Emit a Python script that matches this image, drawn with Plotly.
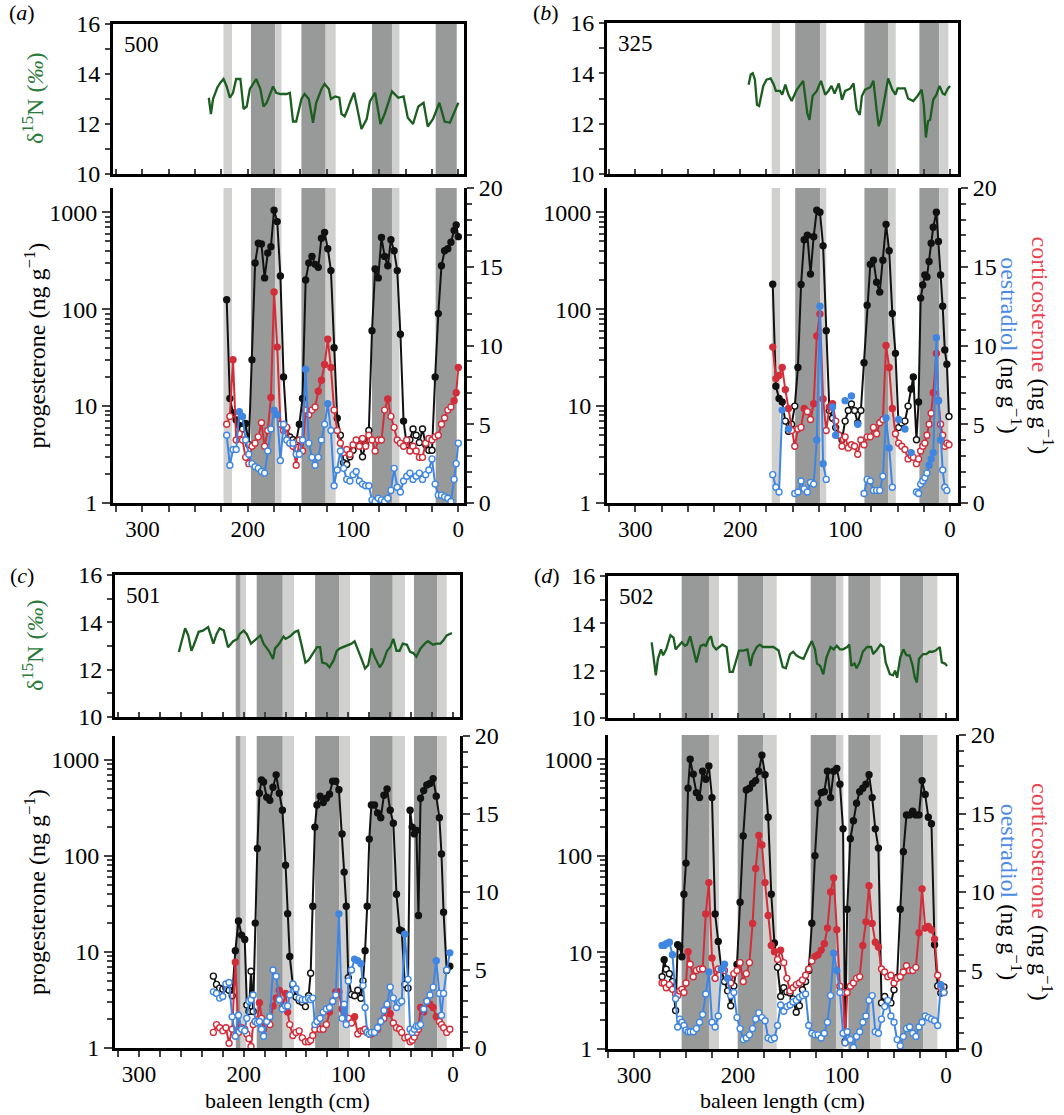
import plotly.graph_objects as go

W, H = 1064, 1115
FONT = "Liberation Serif"
GREEN = "#1b5e20"
BLACK = "#111111"
RED = "#d22e3a"
BLUE = "#3f86e2"
DARK = "#989a9a"
LIGHT = "#d0d1cf"

# ---------------- panel (a) whale 500 ----------------
d15n_x_a = [237, 235, 233, 229, 226, 223, 220, 217, 214, 211,
            207, 204, 201, 198, 192, 188, 185, 182, 176, 173,
            169, 163, 160, 157, 154, 149, 146, 142, 138, 135,
            130, 127, 123, 121, 117, 113, 111, 108, 105, 103,
            99, 97, 92, 87, 84, 79, 74, 70, 63, 57,
            52, 48, 43, 38, 33, 29, 24, 18, 13, 8,
            3, 0]
d15n_a = [13.05, 12.4, 13.0, 13.45, 13.65, 13.8, 13.5, 13.05, 13.25, 13.8,
          13.8, 12.6, 12.7, 13.4, 13.8, 13.4, 12.7, 12.85, 13.5, 13.25,
          13.2, 13.2, 13.25, 12.1, 12.1, 13.0, 13.2, 13.0, 12.05, 12.85,
          13.4, 13.6, 13.4, 13.0, 13.1, 13.05, 12.4, 12.3, 12.6, 12.85,
          13.25, 12.85, 11.8, 12.2, 12.9, 13.25, 12.0, 12.4, 13.3, 13.05,
          13.1, 12.25, 12.0, 12.7, 12.85, 11.9, 12.2, 12.85, 12.1, 12.05,
          12.6, 12.85]
pos_a = [220, 217, 214, 211, 208, 205, 202, 199, 196, 193,
         190, 187, 184, 181, 178, 175, 172, 169, 166, 163,
         160, 157, 154, 151, 148, 145, 142, 139, 136, 133,
         130, 127, 124, 121, 118, 115, 112, 109, 106, 103,
         100, 97, 94, 91, 88, 85, 82, 79, 76, 73,
         70, 67, 64, 61, 58, 55, 52, 49, 46, 43,
         40, 37, 34, 31, 28, 25, 22, 19, 16, 13,
         10, 7, 4, 2, 0]
prog_a = [125, 12, 8.5, 7.2, 6.3, 5.8, 6.6, 4.0, 30, 300,
          480, 470, 210, 380, 440, 1050, 800, 220, 20, 6.0,
          4.8, 4.5, 4.3, 6.5, 12, 200, 300, 350, 290, 270,
          540, 620, 420, 250, 40, 7.5, 5.0, 2.6, 2.5, 3.0,
          3.5, 4.1, 4.0, 3.0, 4.0, 5.6, 60, 260, 210, 550,
          350, 280, 520, 400, 250, 55, 7, 4.0, 4.5, 5.8,
          5.0, 4.2, 5.8, 4.0, 3.5, 3.5, 20, 90, 280, 400,
          420, 490, 650, 740, 560]
cort_a = [5.0, 5.5, 9.1, 4.0, 4.4, 4.0, 2.9, 2.5, 3.6, 3.8,
          4.2, 5.1, 3.6, 4.6, 6.7, 13.4, 9.9, 5.0, 4.6, 4.8,
          3.8, 3.6, 2.4, 4.0, 3.3, 5.9, 5.6, 5.9, 6.1, 7.1,
          7.8, 8.8, 10.4, 8.6, 5.9, 4.6, 3.8, 3.2, 3.4, 3.1,
          3.7, 4.0, 3.6, 4.1, 3.6, 4.3, 4.0, 3.3, 4.0, 4.0,
          5.9, 6.6, 5.5, 4.8, 4.0, 3.8, 3.6, 4.0, 3.3, 3.6,
          3.3, 2.9, 2.9, 3.8, 4.1, 4.0, 4.2, 4.3, 5.0, 5.4,
          5.9, 6.1, 6.5, 7.0, 8.6]
oest_a = [4.3, 2.4, 3.4, 3.4, 5.8, 5.5, 4.0, 3.1, 2.5, 2.3,
          2.2, 2.0, 1.9, 3.3, 4.7, 5.9, 5.6, 2.7, 5.0, 4.0,
          3.8, 3.8, 3.1, 3.1, 4.0, 8.5, 3.8, 2.9, 2.4, 2.9,
          4.0, 5.0, 6.3, 4.6, 1.1, 2.1, 3.3, 2.2, 1.5, 1.4,
          1.8, 2.0, 1.4, 1.2, 1.1, 1.1, 0.2, 0.1, 0.3, 0.2,
          0.1, 0.3, 0.8, 2.2, 1.0, 0.7, 1.4, 1.7, 1.9, 1.5,
          1.7, 1.9, 1.5, 1.8, 2.1, 2.8, 1.2, 0.5, 0.5, 0.4,
          0.3, 0.1, 1.5, 2.5, 3.8]
bands_a = [(223, 215, "light"), (197, 174, "dark"), (174, 168, "light"),
           (149, 126, "dark"), (126, 116.5, "light"), (82, 63, "dark"),
           (63, 56, "light"), (21.5, 1.5, "dark")]

# ---------------- panel (b) whale 325 ----------------
d15n_x_b = [192, 190, 188, 186, 184, 182, 178, 175, 171, 168,
            166, 162, 160, 157, 154, 151, 146, 142, 140, 136,
            134, 131, 127, 123, 119, 116, 113, 110, 106, 103,
            100, 95, 92, 89, 86, 84, 81, 76, 73, 70,
            68, 66, 62, 59, 55, 52, 50, 46, 43, 40,
            35, 31, 27, 25, 23, 21, 19, 16, 13, 10,
            7, 5, 2, 0]
d15n_b = [13.55, 13.95, 14.0, 13.75, 12.75, 12.7, 13.5, 13.75, 13.8, 13.55,
          13.3, 13.3, 13.15, 13.55, 13.15, 12.9, 13.35, 13.6, 13.7, 12.4,
          12.15, 13.1, 13.3, 13.7, 13.15, 13.3, 13.5, 13.2, 13.6, 12.95,
          13.3, 13.4, 13.6, 12.55, 12.35, 13.1, 13.35, 13.45, 13.7, 12.55,
          11.9, 12.15, 13.2, 13.8, 13.35, 13.15, 13.4, 13.4, 13.4, 13.0,
          12.9, 13.1, 13.35, 12.75, 11.45, 12.1, 12.15, 12.95, 13.15, 13.5,
          13.2, 13.15, 13.4, 13.5]
pos_b = [169, 166, 163, 160, 157, 154, 151, 148, 145, 142,
         139, 136, 133, 130, 127, 124, 121, 118, 115, 112,
         109, 106, 103, 100, 97, 94, 91, 88, 85, 82,
         79, 76, 73, 70, 67, 64, 61, 58, 55, 52,
         49, 46, 43, 40,
         37, 35, 32, 30, 28, 26, 24, 22, 20, 18,
         16, 13, 11, 9, 7, 5, 3, 1]
prog_b = [181, 16, 12, 11, 7, 5.5, 6.5, 10, 25, 180,
          520, 580, 230, 560, 1050, 1000, 450, 60, 9, 7.5,
          6, 5, 4.5, 7, 9, 10.5, 9, 6.7, 9, 28,
          110, 290, 320, 190, 150, 320, 750, 400, 90, 35,
          6, 6.7, 7.0, 10,
          15, 20, 4.5, 11, 130, 178, 225, 215, 310, 480,
          700, 1000, 500, 225, 107, 38, 27, 7.8]
cort_b = [9.9, 7.9, 8.1, 8.6, 7.2, 6.0, 4.6, 3.6, 4.7, 4.8,
          6.0, 5.8, 5.3, 6.3, 10.6, 12.0, 6.6, 4.6, 6.1, 6.3,
          5.2, 4.3, 3.6, 4.2, 3.5, 3.7, 3.6, 3.1, 4.0, 3.7,
          4.2, 4.2, 4.8, 4.4, 5.1, 5.3, 10.0, 8.6, 6.0, 4.4,
          3.8, 3.6, 3.4, 2.8,
          3.0, 2.9, 2.5, 2.8, 3.3, 3.6, 3.8, 4.3, 5.0, 5.7,
          7.0, 9.5, 6.5, 5.0, 4.3, 3.6, 3.8, 3.7]
oest_b = [1.8, 1.0, 0.7, 5.9, None, 4.7, None, 0.6, 0.7, 1.4,
          0.9, 0.7, 1.3, 1.2, 4.0, 12.5, 2.5, 1.5, None, 6.1,
          4.3, None, None, 6.5, None, 6.8, None, 5.0, None, 0.6,
          1.5, 1.4, 0.8, 0.8, 0.8, 1.7, 5.4, 3.5, 1.0, None,
          5.3, None, 4.7, None,
          3.2, None, 0.7, 0.6, 1.2, 1.4, 1.6, 1.9, 2.4, 2.8,
          3.2, 10.5, 6.5, 4.0, 2.1, 1.0, 0.8, None]
bands_b = [(170, 162, "light"), (147.6, 123.8, "dark"), (123.8, 118, "light"),
           (81.6, 58.7, "dark"), (58.7, 51.7, "light"), (29.2, 10.2, "dark"),
           (10.2, 1.6, "light")]

# ---------------- panel (c) whale 501 ----------------
d15n_x_c = [262, 259, 256, 253, 250, 248, 243, 239, 234, 229,
            226, 223, 219, 215, 210, 206, 204, 200, 197, 193,
            188, 184, 181, 176, 172, 170, 166, 162, 160, 156,
            151, 148, 145, 141, 138, 133, 130, 127, 125, 121,
            118, 114, 111, 108, 105, 100, 97, 94, 90, 87,
            84, 81, 78, 75, 70, 67, 63, 60, 57, 54,
            51, 48, 44, 41, 38, 35, 31, 27, 24, 19,
            16, 12, 9, 6, 1]
d15n_c = [12.75, 13.25, 13.75, 13.45, 12.8, 13.0, 13.6, 13.65, 13.8, 13.1,
          13.5, 13.75, 13.65, 12.95, 13.2, 13.3, 13.5, 13.65, 13.5, 13.1,
          13.3, 13.45, 13.1, 12.8, 12.45, 12.9, 13.1, 13.4, 13.3, 13.4,
          13.6, 13.65, 13.1, 12.3, 12.4, 12.75, 12.95, 12.95, 12.3, 12.25,
          12.1, 12.4, 12.8, 12.9, 12.95, 13.05, 13.1, 13.2, 12.7, 12.4,
          12.05, 12.2, 12.9, 12.55, 12.1, 12.3, 12.8, 12.95, 13.3, 12.8,
          12.8, 13.1, 13.05, 12.75, 12.7, 12.55, 12.9, 13.1, 13.2, 13.05,
          13.1, 13.1, 13.25, 13.45, 13.55]
pos_c = [229, 226, 223, 220, 217, 214, 211, 208, 205, 202,
         199, 197, 195, 193, 191, 189, 187, 185, 183, 181,
         178, 175, 172, 169, 166, 163, 160, 158, 156, 153,
         150, 147, 144, 141, 138, 136, 134, 132, 130, 127,
         124, 121, 118, 115, 112, 109, 106, 104, 102, 100,
         97, 94, 91, 88, 86, 84, 82, 80, 78, 75,
         72, 69, 66, 63, 60, 57, 54, 51, 49, 46,
         43, 41, 39, 37, 35, 33, 31, 28, 25, 22,
         19, 16, 13, 11, 9, 6, 3]
prog_c = [5.6, 4.6, 4.2, 4.1, 4.2, 4.0, 3.5, 10.3, 21, 15,
          13.5, 2.8, 2.4, 6.3, 2.4, 20, 120, 450, 620, 590,
          410, 380, 520, 700, 450, 300, 80, 25, 9, 4.5,
          3.4, 3.1, 3.0, 2.7, 3.5, 6, 30, 200, 340, 420,
          360, 400, 440, 600, 600, 490, 170, 68, 30, 5.4,
          3.6, 3.5, 4.0, 3.3, 5, 10.3, 30, 150, 340, 340,
          280, 250, 430, 500, 300, 220, 40, 17, 16.6, 4.6,
          4.2, 300, 200, 170, 185, 24, 400, 480, 550, 570,
          640, 420, 250, 105, 26, 6.4, 7.1]
cort_c = [1.0, 1.5, 1.3, 1.1, 1.3, 0.3, 1.2, 5.5, 1.0, 1.3,
          1.2, 0.9, 0.6, 0.1, 1.5, 1.7, 1.8, 2.9, 1.9, 1.2,
          1.6, 1.5, 2.7, 3.2, 3.7, 2.6, 3.5, 2.3, 1.5, 0.8,
          1.0, 1.1, 0.65, 0.4, 0.4, 0.5, 0.8, 1.2, 1.5, 1.2,
          1.2, 1.5, 2.3, 3.0, 3.6, 3.6, 2.5, 2.2, 1.7, 1.9,
          1.6, 2.0, 0.9, 1.1, 1.1, 1.2, 1.0, 0.9, 0.9, 1.0,
          1.2, 1.7, 1.9, 2.6, 2.2, 1.6, 1.3, 1.2, 1.0, 0.65,
          0.7, 0.4, 0.5, 0.7, 1.0, 1.2, 2.6, 2.3, 3.0, 2.8,
          2.6, 2.0, 1.7, 1.5, 1.3, 1.0, 1.2]
oest_c = [3.6, 3.5, 3.2, 3.3, 4.1, 4.2, 2.0, 0.75, 2.1, 1.2,
          1.1, 1.9, 3.0, 3.1, 3.4, 1.7, 1.6, 1.7, 1.2, 0.75,
          1.7, 2.0, 5.0, 4.6, 3.1, 2.5, 2.7, 2.7, 3.4, 4.1,
          3.8, 3.2, 3.1, 3.1, 3.2, 3.1, 3.2, 1.5, 1.7, 1.9,
          2.3, 2.5, 2.6, 3.0, 3.4, 8.6, 1.9, 2.8, 1.5, 4.3,
          5.0, 5.7, 5.6, 5.4, 4.0, 2.6, 1.0, 0.9, 1.0, 1.0,
          1.3, 1.7, 2.4, 2.8, 3.9, 3.2, 2.6, 2.9, 3.0, 7.3,
          4.4, 1.2, 1.0, 1.2, 1.4, 1.4, 1.5, 2.5, 3.0, 3.4,
          3.9, 5.6, 3.5, 2.1, 3.5, 5.0, 6.1]
bands_c = [(207.6, 202.9, "dark"), (202.9, 197.8, "light"), (187.6, 162.7, "dark"),
           (162.7, 151.9, "light"), (131.8, 108.6, "dark"), (108.6, 98.4, "light"),
           (79.3, 57.6, "dark"), (57.6, 45.9, "light"), (37.3, 15, "dark"),
           (15, 6, "light")]

# ---------------- panel (d) whale 502 ----------------
d15n_x_d = [283, 281, 279, 277, 274, 272, 269, 267, 265, 262,
            260, 257, 254, 251, 249, 246, 244, 240, 238, 236,
            233, 231, 228, 226, 224, 221, 218, 215, 211, 208,
            205, 202, 199, 195, 191, 188, 186, 182, 179, 176,
            172, 166, 161, 157, 154, 150, 147, 144, 140, 137,
            132, 129, 126, 124, 121, 118, 115, 111, 108, 105,
            102, 99, 95, 93, 91, 88, 86, 83, 80, 76,
            72, 70, 67, 63, 60, 58, 54, 51, 49, 47,
            44, 41, 38, 35, 32, 30, 28, 26, 22, 19,
            16, 13, 10, 6, 4, 1, -1]
d15n_d = [13.2, 12.5, 11.8, 12.5, 12.9, 12.65, 12.9, 13.2, 13.5, 13.4,
          12.9, 13.05, 13.2, 13.05, 13.1, 13.45, 13.05, 12.35, 12.7, 13.05,
          13.1, 13.05, 13.35, 13.45, 13.05, 12.9, 13.0, 13.1, 13.0, 11.95,
          11.95, 12.35, 12.85, 12.85, 12.9, 12.2, 12.65, 13.0, 13.1, 13.0,
          13.0, 13.0, 12.85, 12.15, 12.1, 12.7, 12.8, 12.65, 12.55, 12.5,
          13.0, 13.25, 12.9, 12.3, 12.2, 11.85, 12.55, 13.0, 12.9, 13.05,
          12.9, 12.9, 13.0, 13.1, 12.2, 12.3, 12.1, 12.35, 12.8, 13.0,
          13.0, 12.7, 12.85, 13.1, 13.0, 12.35, 11.85, 11.8, 12.0, 11.7,
          12.55, 12.9, 12.65, 12.65, 12.2, 11.7, 11.5, 12.5, 12.7, 12.7,
          12.8, 12.8, 12.85, 13.0, 12.35, 12.3, 12.2]
pos_d = [273, 271, 269, 266, 263, 260, 258, 256, 254, 252,
         250, 248, 246, 243, 240, 237, 234, 231, 228, 225,
         222, 219, 216, 213, 210, 207, 204, 201, 198, 195,
         192, 189, 186, 183, 180, 177, 174, 171, 168, 165,
         162, 159, 156, 153, 150, 147, 144, 141, 138, 135,
         132, 129, 126, 123, 120, 117, 114, 111, 108, 105,
         102, 99, 97, 95, 92, 89, 86, 83, 80, 77,
         74, 71, 68, 65, 62, 59, 56, 53, 50, 47,
         44, 41, 38, 35, 32, 29, 26, 23, 20, 17,
         14, 11, 8, 5, 2]
prog_d = [5.6, 8.4, 6.7, 6.0, 5.0, 2.5, 12, 11.5, 9.0, 40,
          84, 500, 1000, 700, 450, 400, 750, 620, 850, 400,
          25, 13, 6.6, 5, 4, 2.8, 4.5, 7.5, 33, 160,
          480, 500, 560, 600, 750, 1100, 690, 250, 40, 12.5,
          7, 3.5, 4.3, 3.9, 3.8, 3.3, 2.4, 2.8, 4.1, 5.0,
          6.5, 20, 100, 350, 450, 460, 750, 400, 750, 800,
          550, 190, 1.2, 28, 150, 230, 350, 460, 500, 550,
          690, 400, 190, 120, 3.0, 3.5, 3.0, 3.0, 4.1, 5.5,
          28, 110, 265, 265, 290, 265, 265, 600, 430, 250,
          215, 12, 4.5, 3.8, 4.4]
cort_d = [4.2, 4.2, 3.9, 4.1, 3.8, 3.5, 3.4, 3.7, 3.8, 3.6,
          4.2, 6.2, 5.4, 4.6, 5.0, 5.1, 5.1, 8.6, 10.6, 5.8,
          4.5, 5.1, 5.1, 5.0, 4.5, 4.2, 4.8, 5.0, 5.5, 4.3,
          4.8, 5.5, 8.0, 11.5, 13.6, 13.0, 10.6, 8.5, 6.6, 6.2,
          5.7, 6.3, 5.5, 4.5, 3.7, 3.9, 4.1, 4.2, 4.4, 4.7,
          5.1, 5.6, 5.9, 6.0, 6.3, 6.7, 7.7, 10.0, 10.9, 7.6,
          4.0, 3.6, 0.4, 3.6, 4.0, 4.2, 4.5, 4.6, 6.6, 8.1,
          10.4, 8.0, 6.8, 6.5, 5.1, 4.9, 4.6, 4.7, 4.2, 4.5,
          4.6, 4.9, 5.3, 5.0, 5.0, 5.2, 7.4, 10.2, 7.7, 7.8,
          7.6, 7.0, 4.7, 3.9, 3.6]
oest_d = [6.6, 6.6, 6.7, 6.8, 6.0, 3.2, 1.4, 1.9, 1.7, 1.5,
          1.2, 1.1, 1.1, 1.1, 1.3, 1.7, 2.2, 3.5, 4.9, 1.7,
          1.4, 2.1, 5.1, 5.4, 4.5, 3.4, 3.6, 2.0, 1.3, 0.6,
          0.7, 0.9, 1.3, 1.9, 2.3, 2.0, 1.8, 0.7, 0.6, 0.7,
          1.5, 2.8, 2.4, 2.7, 2.8, 3.0, 3.1, 3.3, 3.4, 3.5,
          1.5, 1.0, 0.9, 0.9, 0.7, 1.0, 1.7, 3.4, 6.1, 5.0,
          3.6, 1.0, 0.4, 1.1, 0.6, 0.1, 0.8, 1.1, 1.7, 2.1,
          3.1, 3.4, 1.1, 1.0, 1.9, 2.7, 3.1, 2.1, 1.7, 0.6,
          0.2, 0.8, 1.3, 1.4, 1.0, 0.8, 1.4, 1.7, 2.1, 2.0,
          1.9, 1.8, 1.5, 4.1, 3.6]
bands_d = [(254.2, 227.9, "dark"), (227.9, 218.3, "light"), (200.3, 175.6, "dark"),
           (175.6, 162.8, "light"), (130.1, 105.8, "dark"), (105.8, 98.7, "light"),
           (93.9, 73.1, "dark"), (73.1, 62.8, "light"), (44.2, 21.8, "dark"),
           (21.8, 8.3, "light")]

panels = [
    dict(tag="a", whale="500", nx=d15n_x_a, ny=d15n_a, pos=pos_a, prog=prog_a, cort=cort_a, oest=oest_a,
         bands=bands_a, box=(113, 464, 24, 174, 188, 503), xrange=[328, -5.4], xtick=25,
         thr=(6.0, 6.3, 5.5), letter=(22, 13), left=True, right=False, xlabel=False),
    dict(tag="b", whale="325", nx=d15n_x_b, ny=d15n_b, pos=pos_b, prog=prog_b, cort=cort_b, oest=oest_b,
         bands=bands_b, box=(607, 958, 23, 174, 188, 503), xrange=[327, -7.6], xtick=25,
         thr=(10.8, 6.0, 2.4), letter=(546, 13), left=False, right=True, xlabel=False),
    dict(tag="c", whale="501", nx=d15n_x_c, ny=d15n_c, pos=pos_c, prog=prog_c, cort=cort_c, oest=oest_c,
         bands=bands_c, box=(115, 460, 575, 717, 736, 1048), xrange=[323, -6.7], xtick=20,
         thr=(7.0, 2.0, 5.3), letter=(22, 575), left=True, right=False, xlabel=True),
    dict(tag="d", whale="502", nx=d15n_x_d, ny=d15n_d, pos=pos_d, prog=prog_d, cort=cort_d, oest=oest_d,
         bands=bands_d, box=(608, 956, 576, 718, 735, 1049), xrange=[325, -9.6], xtick=25,
         thr=(7.5, 5.8, 4.0), letter=(547, 575), left=False, right=True, xlabel=True),
]

for p in panels:
    assert len(p["nx"]) == len(p["ny"]), p["tag"]
    for k in ("prog", "cort", "oest"):
        assert len(p["pos"]) == len(p[k]), (p["tag"], k)


def ax_key(kind, n):
    return f"{kind}axis" if n == 1 else f"{kind}axis{n}"


def ref(kind, n):
    return kind if n == 1 else f"{kind}{n}"


def fills(vals, thr, color):
    return [color if (v is not None and v >= thr) else "white" for v in vals]


def note(px, py, text, size=24, color="black", angle=0, xanchor="center"):
    return dict(x=px / W, y=1 - py / H, xref="paper", yref="paper", text=text,
                xanchor=xanchor, yanchor="middle", textangle=angle, showarrow=False,
                font=dict(family=FONT, size=size, color=color))


fig = go.Figure()
layout = dict(width=W, height=H, margin=dict(l=0, r=0, t=0, b=0, pad=0),
              paper_bgcolor="white", plot_bgcolor="white", showlegend=False,
              font=dict(family=FONT, size=24, color="black"))
shapes = []
annotations = []
line_style = dict(showline=True, linecolor="black", linewidth=3, showgrid=False, zeroline=False,
                  automargin=False)
tick24 = dict(family=FONT, size=24, color="black")
tick23 = dict(family=FONT, size=23, color="black")

for i, p in enumerate(panels):
    xt, xb = 2 * i + 1, 2 * i + 2
    yt, yb, yr = 3 * i + 1, 3 * i + 2, 3 * i + 3
    x0, x1, ty0, ty1, by0, by1 = p["box"]
    xdom = [x0 / W, x1 / W]

    layout[ax_key("x", xt)] = dict(domain=xdom, anchor=ref("y", yt), range=p["xrange"],
                                   tick0=0, dtick=p["xtick"], ticks="inside", ticklen=5, tickwidth=2,
                                   showticklabels=False, mirror=True, **line_style)
    layout[ax_key("y", yt)] = dict(domain=[1 - ty1 / H, 1 - ty0 / H], anchor=ref("x", xt), range=[10, 16],
                                   tick0=10, dtick=2, ticks="outside", ticklen=5, tickwidth=2, tickfont=tick24,
                                   minor=dict(tick0=10, dtick=1, ticks="outside", ticklen=5, tickwidth=2),
                                   mirror=True, **line_style)
    layout[ax_key("x", xb)] = dict(domain=xdom, anchor=ref("y", yb), range=p["xrange"],
                                   tick0=0, dtick=100, ticks="outside", ticklen=6, tickwidth=2, tickfont=tick23,
                                   ticklabelstandoff=-3,
                                   minor=dict(tick0=0, dtick=p["xtick"], ticks="outside", ticklen=6, tickwidth=2),
                                   **line_style)
    layout[ax_key("y", yb)] = dict(domain=[1 - by1 / H, 1 - by0 / H], anchor=ref("x", xb), type="log",
                                   range=[0, 3.25], dtick=1, exponentformat="none", tickfont=tick24,
                                   ticks="outside", ticklen=8, tickwidth=2,
                                   minor=dict(dtick="D1", ticks="outside", ticklen=5, tickwidth=1.5),
                                   **line_style)
    layout[ax_key("y", yr)] = dict(overlaying=ref("y", yb), anchor=ref("x", xb), side="right", range=[0, 20],
                                   tick0=0, dtick=5, ticks="outside", ticklen=7, tickwidth=2, tickfont=tick24,
                                   minor=dict(tick0=0, dtick=1, ticks="outside", ticklen=5, tickwidth=2),
                                   **line_style)

    for s, e, kind in p["bands"]:
        for xa, ya in ((xt, yt), (xb, yb)):
            shapes.append(dict(type="rect", xref=ref("x", xa), yref=ref("y", ya) + " domain",
                               x0=s, x1=e, y0=0, y1=1, fillcolor=DARK if kind == "dark" else LIGHT,
                               line=dict(width=0), layer="below"))

    fig.add_trace(go.Scatter(x=p["nx"], y=p["ny"], mode="lines", line=dict(color=GREEN, width=2.3),
                             xaxis=ref("x", xt), yaxis=ref("y", yt)))
    tp, tc, to = p["thr"]
    fig.add_trace(go.Scatter(x=p["pos"], y=p["prog"], mode="lines+markers",
                             line=dict(color=BLACK, width=2),
                             marker=dict(size=6, color=fills(p["prog"], tp, BLACK), line=dict(color=BLACK, width=1.4)),
                             xaxis=ref("x", xb), yaxis=ref("y", yb)))
    fig.add_trace(go.Scatter(x=p["pos"], y=p["cort"], mode="lines+markers",
                             line=dict(color=RED, width=2),
                             marker=dict(size=6, color=fills(p["cort"], tc, RED), line=dict(color=RED, width=1.4)),
                             xaxis=ref("x", xb), yaxis=ref("y", yr)))
    fig.add_trace(go.Scatter(x=p["pos"], y=p["oest"], mode="lines+markers",
                             line=dict(color=BLUE, width=2),
                             marker=dict(size=6, color=fills(p["oest"], to, BLUE), line=dict(color=BLUE, width=1.4)),
                             xaxis=ref("x", xb), yaxis=ref("y", yr)))

    # panel letter and whale id
    lx, ly = p["letter"]
    annotations.append(note(lx, ly, f"(<i>{p['tag']}</i>)", size=22))
    annotations.append(note(x0 + 9, ty0 + 20, p["whale"], size=23, xanchor="left"))
    if p["left"]:
        annotations.append(note(33, (ty0 + ty1) / 2, "δ<sup>15</sup>N (<i>‰</i>)", color="#2a7a3a", angle=-90))
        annotations.append(note(35, (by0 + by1) / 2, "progesterone (ng g<sup>−1</sup>)", angle=-90))
    if p["right"]:
        annotations.append(note(1027, (by0 + by1) / 2,
                                "<span style='color:#e8434f'>corticosterone</span> (ng g<sup>−1</sup>)<br>"
                                "<span style='color:#4a8ae6'>oestradiol</span> (ng g<sup>−1</sup>)",
                                angle=90))
    if p["xlabel"]:
        annotations.append(note((x0 + x1) / 2, 1100, "baleen length (cm)", size=22))

layout["shapes"] = shapes
layout["annotations"] = annotations
fig.update_layout(**layout)
fig.write_html("out.html", config={"displayModeBar": False},
               post_script="document.body.style.margin='0px';")
